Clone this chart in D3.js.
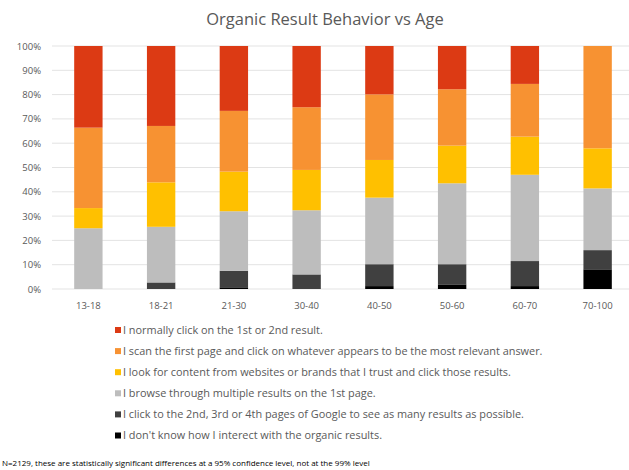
<!DOCTYPE html>
<html><head><meta charset="utf-8">
<script src="https://cdn.jsdelivr.net/npm/d3@7"></script>
<style>body{margin:0;background:#fff}svg{display:block}</style>
</head><body>
<svg id="c" width="629" height="470"></svg>
<script>
const categories = ["13-18","18-21","21-30","30-40","40-50","50-60","60-70","70-100"];
const seriesNames = [
  "I don't know how I interect with the organic results.",
  "I click to the 2nd, 3rd or 4th pages of Google to see as many results as possible.",
  "I browse through multiple results on the 1st page.",
  "I look for content from websites or brands that I trust and click those results.",
  "I scan the first page and click on whatever appears to be the most relevant answer.",
  "I normally click on the 1st or 2nd result."
];
const dontKnow   = [0,   0,   0.7, 0,   1.2, 1.9, 1.2, 8.1];
const pages234   = [0,   2.7, 6.8, 6.0, 9.0, 8.3, 10.3, 7.9];
const browse     = [25.0,22.9,24.5,26.4,27.4,33.3,35.5,25.4];
const trust      = [8.3, 18.3,16.3,16.6,15.5,15.5,15.7,16.5];
const scan       = [33.1,23.2,25.0,25.8,27.0,23.2,21.7,42.1];
const firstTwo   = [33.6,32.9,26.7,25.2,19.9,17.8,15.6,0];
const yTicks = [0,10,20,30,40,50,60,70,80,90,100];
const seriesValues = [dontKnow, pages234, browse, trust, scan, firstTwo];
const colors = ["#000000","#404040","#bdbdbd","#ffc000","#f79232","#dc3a14"];

const svg = d3.select("#c");
const font = "'Open Sans', sans-serif";
const x = d3.scaleBand().domain(categories).range([52, 634]).paddingInner(0.61).paddingOuter(0.305);
const y = d3.scaleLinear().domain([0,100]).range([289, 46]);

// gridlines
svg.append("g").selectAll("line").data(yTicks).join("line")
  .attr("x1", 52).attr("x2", 634)
  .attr("y1", d => y(d)).attr("y2", d => y(d))
  .attr("stroke", "#e3e3e3").attr("stroke-width", 1);

// y labels
svg.append("g").selectAll("text").data(yTicks).join("text")
  .attr("x", 41).attr("y", d => y(d) + 3.5)
  .attr("text-anchor", "end").attr("font-family", font).attr("font-size", 9.5)
  .attr("fill", "#595959").text(d => d + "%");

// stacked data
const rows = categories.map((c, i) => {
  const o = {cat: c};
  seriesValues.forEach((s, k) => o["s" + k] = s[i]);
  return o;
});
const stack = d3.stack().keys(seriesValues.map((_, k) => "s" + k));
const layers = stack(rows);
svg.append("g").selectAll("g").data(layers).join("g")
  .attr("fill", (d, k) => colors[k])
  .selectAll("rect").data(d => d).join("rect")
  .attr("x", d => x(d.data.cat)).attr("width", x.bandwidth())
  .attr("y", d => y(d[1])).attr("height", d => Math.max(0, y(d[0]) - y(d[1])));

// x labels
svg.append("g").selectAll("text").data(categories).join("text")
  .attr("x", d => x(d) + x.bandwidth()/2).attr("y", 309)
  .attr("text-anchor", "middle").attr("font-family", font).attr("font-size", 9.5)
  .attr("fill", "#595959").text(d => d);

// title
svg.append("text").attr("x", 325).attr("y", 25).attr("text-anchor", "middle")
  .attr("font-family", font).attr("font-size", 16.5).attr("fill", "#595959")
  .text("Organic Result Behavior vs Age");

// legend (reverse order: top series first)
const legendOrder = d3.range(seriesNames.length).reverse();
const lg = svg.append("g").selectAll("g").data(legendOrder).join("g")
  .attr("transform", (d, i) => `translate(115, ${330 + i * 21.1})`);
lg.append("rect").attr("x", 0).attr("y", -3).attr("width", 6).attr("height", 6)
  .attr("fill", d => colors[d]);
lg.append("text").attr("x", 8).attr("y", 3.8)
  .attr("font-family", font).attr("font-size", 10.9).attr("fill", "#595959")
  .text(d => seriesNames[d]);

// footnote
svg.append("text").attr("x", 2).attr("y", 466)
  .attr("font-family", font).attr("font-size", 8).attr("fill", "#000")
  .text("N=2129, these are statistically significant differences at a 95% confidence level, not at the 99% level");
</script>
</body></html>
